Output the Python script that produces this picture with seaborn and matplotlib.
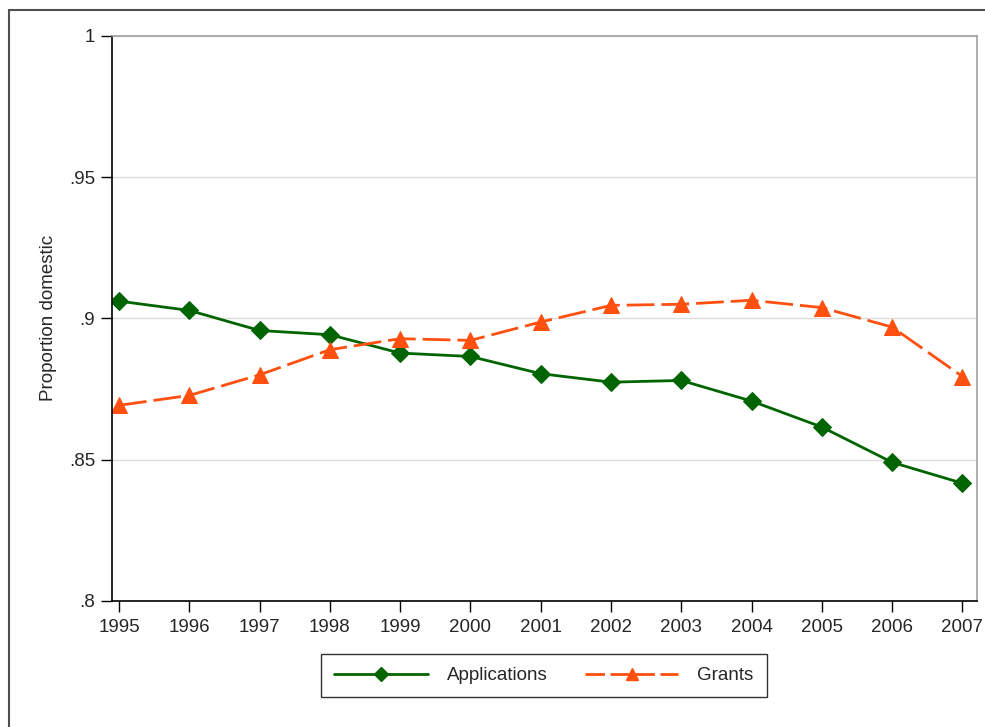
import matplotlib
matplotlib.use("Agg")
import matplotlib.pyplot as plt
import matplotlib.lines as mlines
import seaborn as sns
import pandas as pd

# ---------------------------------------------------------------------------
# Data
# ---------------------------------------------------------------------------
years = [1995, 1996, 1997, 1998, 1999, 2000, 2001, 2002, 2003, 2004, 2005, 2006, 2007]
applications = [0.9061, 0.9028, 0.8957, 0.8942, 0.8877, 0.8865, 0.8804,
                0.8774, 0.8780, 0.8707, 0.8615, 0.8490, 0.8416]
grants = [0.8692, 0.8727, 0.8800, 0.8889, 0.8928, 0.8922, 0.8987,
          0.9046, 0.9050, 0.9064, 0.9038, 0.8969, 0.8794]

y_ticks = [0.8, 0.85, 0.9, 0.95, 1.0]
y_tick_labels = [".8", ".85", ".9", ".95", "1"]

GREEN = "#006400"
ORANGE = "#ff5010"
DASH = (0, (10, 2.5))

sns.set_style("white")
plt.rcParams["font.family"] = ["Liberation Sans", "DejaVu Sans"]

df = pd.DataFrame({"year": years, "Applications": applications, "Grants": grants})

fig = plt.figure(figsize=(9.85, 7.27), dpi=100)
ax = fig.add_axes([0.1137, 0.1737, 0.8777, 0.7768])

for y in y_ticks:
    ax.axhline(y, color="#dcdcdc", lw=1, zorder=0)

sns.lineplot(data=df, x="year", y="Applications", ax=ax, color=GREEN, lw=2,
             marker="D", markersize=9, markeredgecolor=GREEN, label="Applications")
sns.lineplot(data=df, x="year", y="Grants", ax=ax, color=ORANGE, lw=2,
             marker="^", markersize=11, markeredgecolor=ORANGE, label="Grants",
             dashes=False, linestyle=DASH)

for side in ["left", "bottom"]:
    ax.spines[side].set_color("black")
    ax.spines[side].set_linewidth(1.2)
for side in ["top", "right"]:
    ax.spines[side].set_color("#a0a0a0")
    ax.spines[side].set_linewidth(1.2)

ax.set_xlim(1994.9, 2007.2)
ax.set_ylim(0.8, 1.0)
ax.set_xticks(years)
ax.set_xticklabels([str(y) for y in years], fontsize=13.5)
ax.set_yticks(y_ticks)
ax.set_yticklabels(y_tick_labels, fontsize=13.5)
ax.tick_params(axis="both", direction="out", length=8, width=1, color="black",
               bottom=True, left=True, pad=4)
ax.tick_params(axis="x", pad=5)
ax.set_xlabel("")
ax.set_ylabel("Proportion domestic", fontsize=13.5, labelpad=9)

ax.get_legend().remove()
h_app = mlines.Line2D([], [], color=GREEN, lw=2, marker="D", markersize=7,
                      markeredgecolor=GREEN)
h_gr = mlines.Line2D([], [], color=ORANGE, lw=2, marker="^", markersize=8,
                     markeredgecolor=ORANGE, linestyle=(0, (7, 2)))
leg = fig.legend([h_app, h_gr], ["Applications", "Grants"], loc="center",
                 bbox_to_anchor=(0.552, 0.0708), ncol=2, fontsize=13.5,
                 frameon=True, fancybox=False, handlelength=5.0,
                 columnspacing=2.0, handletextpad=1.0, borderpad=0.7)
leg.get_frame().set_edgecolor("black")
leg.get_frame().set_linewidth(1.0)

# outer frame (top and left edges visible)
fig.add_artist(mlines.Line2D([8.5 / 985, 8.5 / 985], [0, 1 - 10 / 727],
                             color="#505050", lw=1.5))
fig.add_artist(mlines.Line2D([8.5 / 985, 1], [1 - 10 / 727, 1 - 10 / 727],
                             color="#505050", lw=1.5))

fig.savefig("out.png", dpi=100, facecolor="white")
